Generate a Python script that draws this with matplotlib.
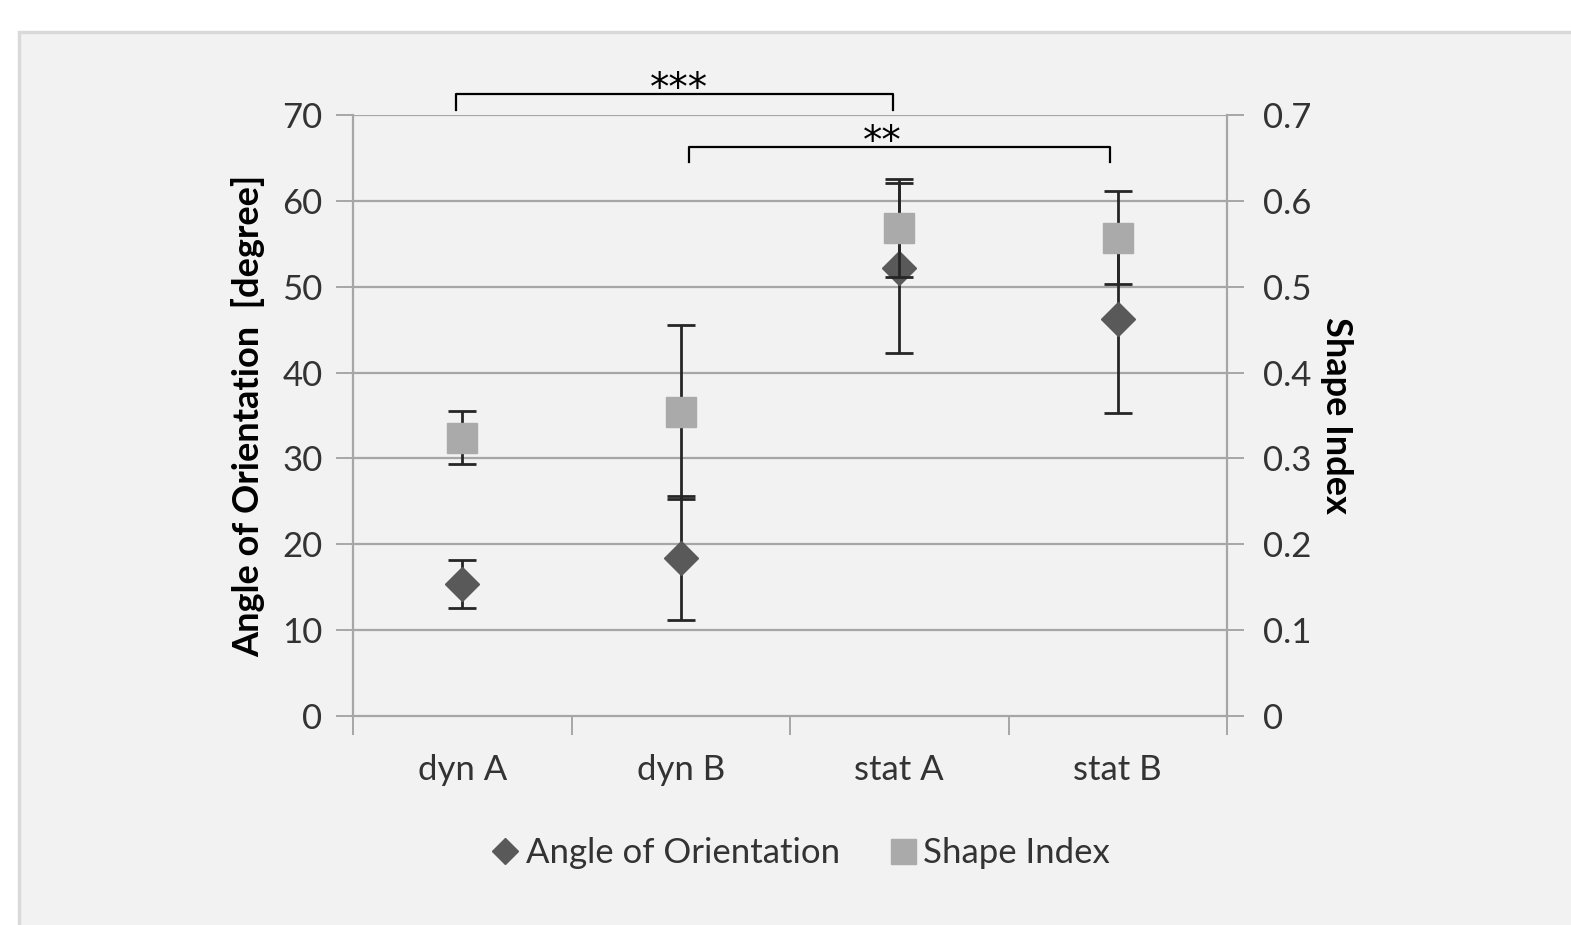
import numpy as np
import matplotlib.pyplot as plt
from matplotlib.patches import Rectangle
from matplotlib.lines import Line2D

# valeurs
categories = ["dyn A", "dyn B", "stat A", "stat B"]
angle = [15.4, 18.4, 52.2, 46.2]
angle_err = [2.8, 7.2, 9.9, 10.9]
shape = [0.324, 0.354, 0.568, 0.557]
shape_err = [0.031, 0.101, 0.057, 0.054]

# crochets de significativité : (début, fin, hauteur, x du texte, texte)
brackets = [(-0.027, 1.973, 72.4, 0.99, "***"), (1.037, 2.963, 66.3, 1.92, "**")]

plt.rcParams['font.family'] = ['Lato', 'DejaVu Sans']

fig = plt.figure(figsize=(15.71, 9.25), dpi=100)
fig.patch.set_facecolor("white")
fig.patches.append(Rectangle((19 / 1571, -0.01), 1.02, 1 - 32 / 925 + 0.01,
                             transform=fig.transFigure, facecolor="#f2f2f2",
                             edgecolor="#d9d9d9", linewidth=2.5, zorder=-10))

ax = fig.add_axes([353 / 1571, 209 / 925, 874 / 1571, 601 / 925])
ax.set_facecolor("none")
x = np.arange(len(categories))

grid_c = "#a6a6a6"
txt_c = "#333333"
ax.set_xlim(-0.5, 3.5)
ax.set_ylim(0, 70)
ax.set_yticks(np.arange(0, 71, 10))
for v in np.arange(10, 71, 10):
    ax.axhline(v, color=grid_c, lw=1.6, zorder=0)
ax.set_xticks(np.arange(-0.5, 3.6, 1))
ax.set_xticklabels([])
ax.set_xticks(x, minor=True)
ax.set_xticklabels(categories, minor=True)
ax.tick_params(axis="x", which="major", length=14, width=1.4, color=grid_c, direction="out")
ax.tick_params(axis="x", which="minor", length=0, pad=27, labelsize=25, labelcolor=txt_c)
ax.tick_params(axis="y", length=12, width=1.4, color=grid_c, pad=10, labelsize=25, labelcolor=txt_c)
for s in ["left", "bottom", "right"]:
    ax.spines[s].set_color(grid_c)
    ax.spines[s].set_linewidth(1.6)
ax.spines["top"].set_visible(False)
ax.set_ylabel("Angle of Orientation  [degree]", fontsize=26, fontweight="bold", labelpad=12)

ax.errorbar(x, angle, yerr=angle_err, fmt="D", color="#595959", markersize=17,
            ecolor="#262626", elinewidth=2, capsize=10, capthick=2, zorder=3)

ax2 = ax.twinx()
ax2.set_ylim(0, 0.7)
ax2.set_yticks(np.arange(0, 0.71, 0.1))
ax2.set_yticklabels(["0"] + [f"{v:.1f}" for v in np.arange(0.1, 0.71, 0.1)])
ax2.tick_params(axis="y", length=12, width=1.4, color=grid_c, pad=14, labelsize=25, labelcolor=txt_c)
for s in ax2.spines.values():
    s.set_visible(False)
ax2.set_ylabel("Shape Index", fontsize=26, fontweight="bold", rotation=270, labelpad=30)
ax2.errorbar(x, shape, yerr=shape_err, fmt="s", color="#aaaaaa", markersize=22,
             ecolor="#262626", elinewidth=2, capsize=10, capthick=2, zorder=3)

for x0, x1, h, xt, txt in brackets:
    ax.plot([x0, x0, x1, x1], [h - 1.8, h, h, h - 1.8], color="black", lw=1.6, clip_on=False)
    ax.text(xt, h - 1.6, txt, ha="center", va="bottom", fontsize=28,
            family="DejaVu Sans", clip_on=False)

handles = [Line2D([], [], marker="D", color="#595959", ls="none", markersize=13),
           Line2D([], [], marker="s", color="#aaaaaa", ls="none", markersize=18)]
fig.legend(handles, ["Angle of Orientation", "Shape Index"], loc="center",
           bbox_to_anchor=(799 / 1571, 1 - 853 / 925), ncol=2, frameon=False,
           fontsize=25, handletextpad=0.1, columnspacing=1.3, handlelength=1.0,
           labelcolor=txt_c)

fig.savefig("out.png", dpi=100, facecolor=fig.get_facecolor())
